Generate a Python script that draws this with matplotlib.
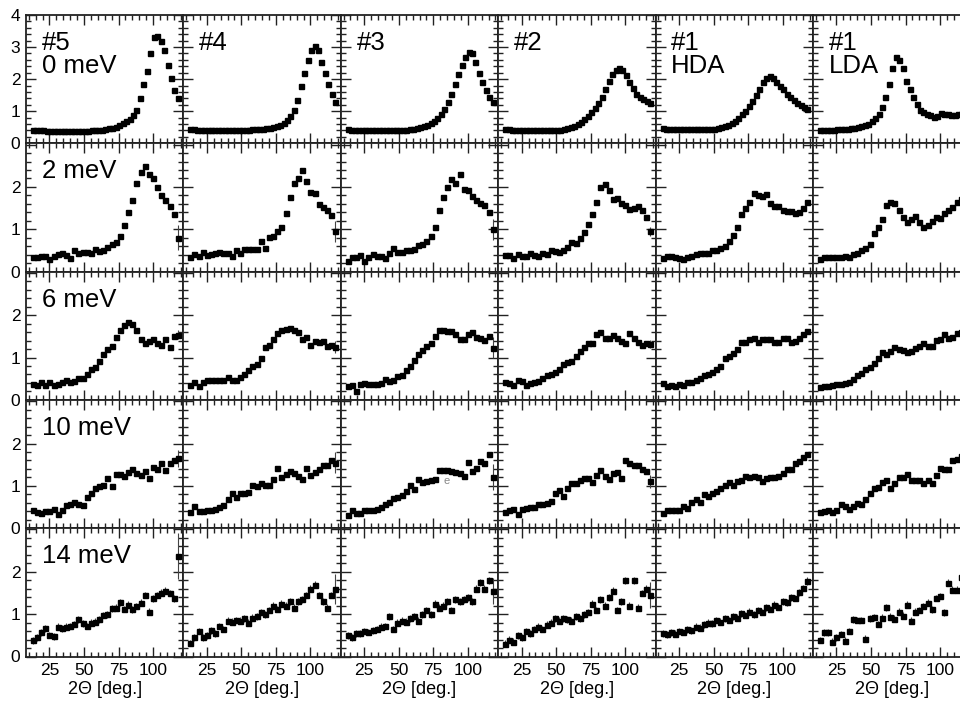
import matplotlib
matplotlib.use('Agg')
import matplotlib.pyplot as plt
from matplotlib.ticker import MultipleLocator

plt.rcParams['font.family'] = ['Liberation Sans', 'DejaVu Sans']

# scattering angles (deg.)
angles_el = [13, 15.5, 18, 20.5, 23, 25.5, 28, 30.5, 33, 35.5, 38, 40.5, 43, 45.5, 48,
             50.5, 53, 55.5, 58, 60.5, 63, 65.5, 68, 70.5, 73, 75.5, 78, 80.5, 83, 85.5,
             88, 90.5, 93, 95.5, 98, 100.5, 103, 105.5, 108, 110.5, 113, 115.5, 118]
angles_inel = [13, 16, 19, 22, 25, 28, 31, 34, 37, 40, 43, 46, 49, 52, 55, 58, 61, 64,
               67, 70, 73, 76, 79, 82, 85, 88, 91, 94, 97, 100, 103, 106, 109, 112, 115, 118]

samples = ['#5', '#4', '#3', '#2', '#1\nHDA', '#1\nLDA']
energies = ['0 meV', '2 meV', '6 meV', '10 meV', '14 meV']

# 0 meV
s5_e0 = [0.43, 0.41, 0.40, 0.40, 0.39, 0.39, 0.38, 0.38, 0.37, 0.37, 0.37, 0.37, 0.37, 0.37, 0.37,
         0.38, 0.39, 0.40, 0.41, 0.42, 0.43, 0.45, 0.47, 0.49, 0.52, 0.56, 0.62, 0.68, 0.76, 0.88,
         1.05, 1.40, 1.85, 2.25, 2.80, 3.30, 3.35, 3.20, 2.90, 2.45, 2.05, 1.65, 1.40]
s4_e0 = [0.45, 0.44, 0.43, 0.43, 0.42, 0.42, 0.42, 0.42, 0.42, 0.42, 0.42, 0.42, 0.42, 0.42, 0.42,
         0.42, 0.43, 0.43, 0.44, 0.44, 0.45, 0.46, 0.47, 0.49, 0.51, 0.54, 0.58, 0.64, 0.72, 0.85,
         1.05, 1.35, 1.80, 2.20, 2.60, 2.90, 3.02, 2.90, 2.55, 2.20, 1.85, 1.55, 1.30]
s3_e0 = [0.44, 0.43, 0.43, 0.42, 0.42, 0.42, 0.42, 0.42, 0.42, 0.42, 0.42, 0.42, 0.42, 0.42, 0.42,
         0.42, 0.43, 0.43, 0.44, 0.46, 0.48, 0.50, 0.54, 0.58, 0.63, 0.70, 0.80, 0.92, 1.08, 1.30,
         1.55, 1.85, 2.15, 2.45, 2.70, 2.85, 2.83, 2.55, 2.20, 1.90, 1.65, 1.45, 1.30]
s2_e0 = [0.45, 0.44, 0.43, 0.42, 0.42, 0.41, 0.41, 0.40, 0.40, 0.40, 0.40, 0.40, 0.40, 0.41, 0.41,
         0.41, 0.42, 0.44, 0.47, 0.50, 0.55, 0.60, 0.67, 0.75, 0.85, 0.97, 1.10, 1.25, 1.45, 1.70,
         1.95, 2.15, 2.30, 2.35, 2.28, 2.12, 1.92, 1.72, 1.55, 1.45, 1.38, 1.32, 1.27]
s1h_e0 = [0.47, 0.46, 0.46, 0.45, 0.45, 0.45, 0.44, 0.44, 0.44, 0.44, 0.44, 0.44, 0.44, 0.44, 0.44,
          0.45, 0.47, 0.50, 0.54, 0.58, 0.64, 0.71, 0.80, 0.90, 1.02, 1.16, 1.32, 1.50, 1.70, 1.90,
          2.05, 2.10, 2.05, 1.92, 1.78, 1.68, 1.55, 1.45, 1.35, 1.27, 1.20, 1.13, 1.08]
s1l_e0 = [0.40, 0.41, 0.42, 0.43, 0.43, 0.44, 0.44, 0.45, 0.46, 0.47, 0.49, 0.51, 0.53, 0.56, 0.60,
          0.68, 0.78, 0.92, 1.12, 1.45, 1.85, 2.35, 2.70, 2.60, 2.35, 1.95, 1.70, 1.45, 1.22, 1.05,
          0.97, 0.91, 0.88, 0.83, 0.85, 0.95, 0.92, 0.90, 0.88, 0.87, 0.90, 0.92, 0.93]

# 2 meV
s5_e2 = [0.35, 0.34, 0.36, 0.38, 0.30, 0.38, 0.42, 0.44, 0.40, 0.33, 0.52, 0.43, 0.46, 0.47, 0.45,
         0.54, 0.48, 0.52, 0.59, 0.66, 0.70, 0.85, 1.10, 1.40, 1.70, 2.10, 2.35, 2.50, 2.30, 2.20,
         2.00, 1.80, 1.68, 1.55, 1.35, 0.80]
s4_e2 = [0.35, 0.42, 0.38, 0.47, 0.40, 0.41, 0.44, 0.47, 0.45, 0.43, 0.36, 0.50, 0.44, 0.54, 0.53,
         0.54, 0.54, 0.73, 0.56, 0.81, 0.85, 0.95, 1.05, 1.38, 1.75, 2.10, 2.20, 2.39, 2.15, 1.89,
         1.86, 1.60, 1.52, 1.46, 1.33, 0.95]
s3_e2 = [0.24, 0.35, 0.34, 0.40, 0.26, 0.35, 0.42, 0.38, 0.38, 0.32, 0.45, 0.56, 0.46, 0.46, 0.52,
         0.50, 0.54, 0.64, 0.66, 0.72, 0.85, 1.05, 1.45, 1.75, 2.00, 2.19, 2.09, 2.31, 1.95, 1.92,
         1.78, 1.70, 1.62, 1.57, 1.40, 1.00]
s2_e2 = [0.39, 0.39, 0.32, 0.42, 0.36, 0.36, 0.44, 0.40, 0.36, 0.44, 0.42, 0.50, 0.49, 0.47, 0.52,
         0.57, 0.71, 0.68, 0.80, 0.94, 1.13, 1.35, 1.65, 2.00, 2.07, 1.92, 1.72, 1.74, 1.62, 1.58,
         1.48, 1.50, 1.54, 1.46, 1.30, 0.95]
s1h_e2 = [0.32, 0.36, 0.38, 0.34, 0.32, 0.30, 0.34, 0.38, 0.42, 0.44, 0.44, 0.45, 0.52, 0.50, 0.55,
          0.60, 0.73, 0.87, 1.05, 1.36, 1.50, 1.64, 1.86, 1.82, 1.78, 1.83, 1.62, 1.56, 1.54, 1.45,
          1.43, 1.44, 1.39, 1.40, 1.50, 1.64]
s1l_e2 = [0.30, 0.34, 0.35, 0.34, 0.34, 0.34, 0.38, 0.35, 0.42, 0.45, 0.50, 0.56, 0.65, 0.90, 1.06,
          1.24, 1.58, 1.65, 1.62, 1.45, 1.28, 1.17, 1.24, 1.31, 1.17, 1.05, 1.09, 1.19, 1.28, 1.27,
          1.38, 1.45, 1.52, 1.65, 1.72, 1.75]

# 6 meV
s5_e6 = [0.38, 0.36, 0.42, 0.35, 0.42, 0.36, 0.38, 0.42, 0.48, 0.43, 0.44, 0.52, 0.52, 0.60, 0.72,
         0.77, 0.93, 1.08, 1.20, 1.28, 1.48, 1.66, 1.78, 1.83, 1.80, 1.66, 1.45, 1.35, 1.40, 1.44,
         1.35, 1.29, 1.45, 1.26, 1.50, 1.54]
s4_e6 = [0.36, 0.42, 0.32, 0.43, 0.48, 0.48, 0.46, 0.46, 0.46, 0.54, 0.48, 0.48, 0.54, 0.60, 0.70,
         0.80, 0.85, 1.00, 1.25, 1.30, 1.45, 1.58, 1.65, 1.68, 1.70, 1.66, 1.60, 1.45, 1.48, 1.30,
         1.40, 1.37, 1.38, 1.27, 1.30, 1.25]
s3_e6 = [0.32, 0.36, 0.22, 0.38, 0.40, 0.38, 0.38, 0.38, 0.41, 0.50, 0.44, 0.46, 0.56, 0.58, 0.70,
         0.80, 0.95, 1.09, 1.19, 1.27, 1.35, 1.50, 1.65, 1.66, 1.62, 1.62, 1.56, 1.43, 1.43, 1.55,
         1.60, 1.48, 1.46, 1.42, 1.50, 1.23]
s2_e6 = [0.42, 0.39, 0.35, 0.48, 0.44, 0.36, 0.40, 0.42, 0.44, 0.52, 0.58, 0.60, 0.66, 0.73, 0.85,
         0.90, 0.91, 1.03, 1.16, 1.25, 1.35, 1.35, 1.55, 1.60, 1.46, 1.46, 1.54, 1.46, 1.40, 1.35,
         1.58, 1.46, 1.37, 1.30, 1.35, 1.32]
s1h_e6 = [0.39, 0.32, 0.36, 0.32, 0.38, 0.36, 0.42, 0.42, 0.48, 0.52, 0.58, 0.61, 0.66, 0.73, 0.80,
          1.00, 1.03, 1.11, 1.20, 1.37, 1.37, 1.43, 1.46, 1.37, 1.43, 1.43, 1.43, 1.37, 1.37, 1.46,
          1.46, 1.37, 1.40, 1.47, 1.56, 1.62]
s1l_e6 = [0.31, 0.34, 0.34, 0.36, 0.38, 0.38, 0.41, 0.43, 0.50, 0.58, 0.64, 0.72, 0.78, 0.88, 0.99,
          1.13, 1.09, 1.15, 1.25, 1.20, 1.18, 1.14, 1.16, 1.22, 1.27, 1.35, 1.27, 1.28, 1.42, 1.45,
          1.55, 1.47, 1.48, 1.58, 1.60, 1.62]

# 10 meV
s5_e10 = [0.43, 0.39, 0.35, 0.40, 0.40, 0.46, 0.34, 0.44, 0.54, 0.56, 0.61, 0.58, 0.54, 0.74, 0.83,
          0.95, 0.99, 1.01, 1.19, 0.99, 1.27, 1.29, 1.23, 1.33, 1.40, 1.31, 1.25, 1.35, 1.19, 1.44,
          1.40, 1.54, 1.37, 1.54, 1.60, 1.65]
s4_e10 = [0.38, 0.52, 0.40, 0.41, 0.42, 0.43, 0.45, 0.50, 0.54, 0.69, 0.82, 0.73, 0.83, 0.83, 0.85,
          1.02, 1.00, 1.06, 1.03, 1.03, 1.17, 1.43, 1.20, 1.29, 1.35, 1.30, 1.23, 1.17, 1.43, 1.25,
          1.32, 1.40, 1.50, 1.49, 1.61, 1.55]
s3_e10 = [0.32, 0.42, 0.35, 0.36, 0.42, 0.44, 0.44, 0.46, 0.50, 0.58, 0.61, 0.72, 0.74, 0.78, 0.87,
          1.03, 0.93, 1.17, 1.09, 1.11, 1.13, 1.17, 1.37, 1.37, 1.37, 1.34, 1.33, 1.31, 1.23, 1.57,
          1.35, 1.43, 1.58, 1.54, 1.76, 1.21]
s2_e10 = [0.38, 0.44, 0.46, 0.34, 0.45, 0.48, 0.50, 0.50, 0.56, 0.58, 0.59, 0.65, 0.82, 0.90, 0.76,
          0.95, 1.06, 1.06, 1.13, 1.19, 1.19, 1.09, 1.26, 1.37, 1.24, 1.17, 1.31, 1.32, 1.19, 1.61,
          1.54, 1.49, 1.50, 1.40, 1.35, 1.11]
s1h_e10 = [0.35, 0.42, 0.42, 0.42, 0.44, 0.52, 0.48, 0.61, 0.68, 0.61, 0.80, 0.76, 0.82, 0.87, 0.95,
           1.01, 1.09, 1.01, 1.11, 1.15, 1.23, 1.20, 1.23, 1.20, 1.11, 1.19, 1.20, 1.20, 1.23, 1.31,
           1.39, 1.39, 1.54, 1.58, 1.68, 1.76]
s1l_e10 = [0.38, 0.40, 0.44, 0.38, 0.44, 0.56, 0.52, 0.46, 0.53, 0.60, 0.58, 0.69, 0.82, 0.95, 0.98,
           1.09, 1.15, 0.94, 1.06, 1.20, 1.20, 1.27, 1.14, 1.14, 1.14, 1.06, 1.14, 1.06, 1.25, 1.43,
           1.39, 1.40, 1.62, 1.63, 1.70, 1.75]

# 14 meV
s5_e14 = [0.38, 0.45, 0.57, 0.67, 0.51, 0.48, 0.70, 0.67, 0.70, 0.72, 0.77, 0.88, 0.78, 0.72, 0.80,
          0.82, 0.88, 0.98, 1.00, 1.14, 1.15, 1.28, 1.12, 1.22, 1.11, 1.19, 1.27, 1.45, 1.06, 1.37,
          1.45, 1.51, 1.55, 1.50, 1.37, 2.37]
s4_e14 = [0.32, 0.45, 0.60, 0.45, 0.50, 0.62, 0.55, 0.72, 0.65, 0.85, 0.82, 0.86, 0.85, 0.90, 0.80,
          0.92, 0.95, 1.05, 1.00, 1.10, 1.20, 1.12, 1.25, 1.20, 1.30, 1.15, 1.30, 1.35, 1.45, 1.60,
          1.70, 1.45, 1.30, 1.15, 1.45, 1.60]
s3_e14 = [0.50, 0.45, 0.55, 0.55, 0.60, 0.58, 0.62, 0.65, 0.70, 0.72, 0.95, 0.65, 0.80, 0.85, 0.82,
          0.90, 0.95, 0.85, 1.00, 1.10, 1.00, 1.25, 1.15, 1.20, 1.30, 1.10, 1.35, 1.30, 1.35, 1.40,
          1.30, 1.60, 1.75, 1.60, 1.80, 1.55]
s2_e14 = [0.30, 0.40, 0.35, 0.50, 0.45, 0.60, 0.55, 0.65, 0.70, 0.65, 0.75, 0.80, 0.90, 0.85, 0.90,
          0.88, 0.85, 0.95, 0.90, 1.00, 1.05, 1.25, 1.10, 1.35, 1.20, 1.40, 1.55, 1.10, 1.30, 1.80,
          1.20, 1.80, 1.15, 1.50, 1.60, 1.45]
s1h_e14 = [0.55, 0.52, 0.57, 0.54, 0.60, 0.58, 0.64, 0.62, 0.70, 0.68, 0.76, 0.80, 0.78, 0.86, 0.82,
           0.90, 0.86, 0.95, 0.92, 1.02, 0.98, 1.06, 1.00, 1.10, 1.05, 1.16, 1.12, 1.22, 1.18, 1.30,
           1.28, 1.40, 1.38, 1.52, 1.62, 1.78]
s1l_e14 = [0.39, 0.57, 0.57, 0.35, 0.45, 0.53, 0.37, 0.60, 0.88, 0.86, 0.86, 0.42, 0.90, 0.93, 0.77,
           0.92, 1.16, 0.94, 0.89, 1.06, 0.96, 1.22, 0.85, 1.06, 1.10, 1.19, 1.27, 1.11, 1.38, 1.43,
           1.04, 1.74, 1.58, 1.58, 1.87, 1.90]

rows = [[s5_e0, s4_e0, s3_e0, s2_e0, s1h_e0, s1l_e0],
        [s5_e2, s4_e2, s3_e2, s2_e2, s1h_e2, s1l_e2],
        [s5_e6, s4_e6, s3_e6, s2_e6, s1h_e6, s1l_e6],
        [s5_e10, s4_e10, s3_e10, s2_e10, s1h_e10, s1l_e10],
        [s5_e14, s4_e14, s3_e14, s2_e14, s1h_e14, s1l_e14]]

# typical error per row and error of the last (edge) point of each panel
row_err = [0.01, 0.03, 0.03, 0.04, 0.08]
end_err = [[0, 0, 0, 0, 0, 0],
           [0.30, 0.25, 0.25, 0.10, 0.0, 0.0],
           [0.10, 0.15, 0.25, 0.10, 0.0, 0.0],
           [0.20, 0.25, 0.30, 0.15, 0.05, 0.0],
           [0.55, 0.35, 0.30, 0.30, 0.10, 0.10]]

fig = plt.figure(figsize=(9.6, 7.06), dpi=100)
W, H = 960.0, 706.0
x0, y0, pw, ph = 26.0, 15.0, 157.4, 128.3

for r in range(5):
    for c in range(6):
        ax = fig.add_axes([(x0 + c * pw) / W, 1 - (y0 + (r + 1) * ph) / H, pw / W, ph / H])
        y = rows[r][c]
        x = angles_el if r == 0 else angles_inel
        err = [row_err[r]] * len(y)
        err[-1] = max(err[-1], end_err[r][c])
        ax.errorbar(x, y, yerr=err, fmt='s', ms=3.6, color='k', mec='k',
                    ecolor='#444444', elinewidth=0.8, capsize=0)

        ax.set_xlim(8, 122)
        ax.xaxis.set_major_locator(MultipleLocator(25))
        ax.xaxis.set_minor_locator(MultipleLocator(5))
        if r == 0:
            ax.set_ylim(0, 4)
            ax.set_yticks([0, 1, 2, 3, 4])
            ax.set_yticklabels(['0', '1', '2', '3', '4'])
        else:
            ax.set_ylim(0, 3.03)
            ax.set_yticks([0, 1, 2, 3])
            ax.set_yticklabels(['0', '1', '2', ''])
        ax.yaxis.set_minor_locator(MultipleLocator(0.2))

        ax.tick_params(which='both', direction='in', top=True, right=True,
                       labelsize=12.5, width=1.0, color='#222222')
        ax.tick_params(which='major', length=7)
        ax.tick_params(which='minor', length=3.5)
        ax.tick_params(axis='y', pad=4)
        ax.tick_params(axis='x', pad=5)
        for sp in ax.spines.values():
            sp.set_linewidth(1.3)
            sp.set_color('#222222')

        if c != 0:
            ax.tick_params(labelleft=False)
        if r != 4:
            ax.tick_params(labelbottom=False)
        else:
            ax.set_xlabel('2\u0398 [deg.]', fontsize=13, labelpad=2)

        if r == 0:
            label = samples[c] + ('\n0 meV' if c == 0 else '')
            ax.text(0.10, 0.875, label, transform=ax.transAxes, ha='left', va='top',
                    fontsize=18.5, linespacing=0.95)
        elif c == 0:
            ax.text(0.10, 0.875, energies[r], transform=ax.transAxes, ha='left', va='top',
                    fontsize=18.5)

        if r == 3 and c == 2:
            ax.text(84.3, 1.11, 'e', color='#888888', fontsize=8, ha='center', va='center')

fig.savefig('out.png', dpi=100)
